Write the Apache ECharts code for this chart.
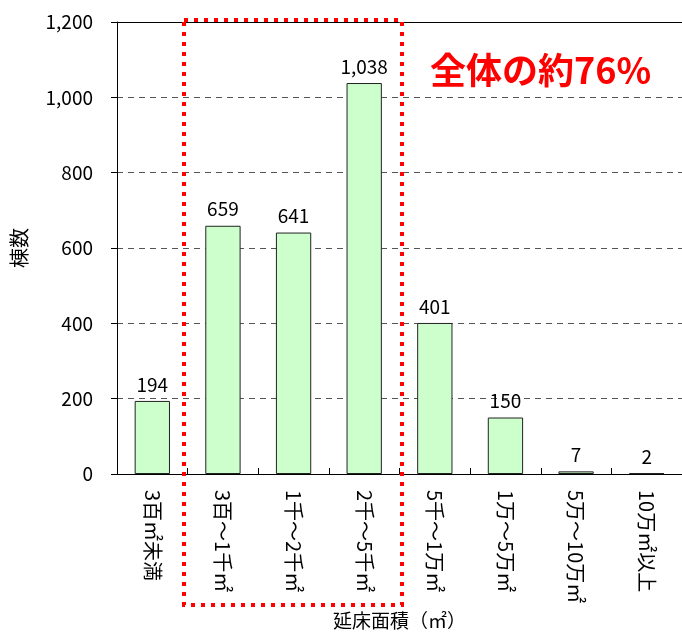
<!DOCTYPE html>
<html><head><meta charset="utf-8">
<script src="https://cdn.jsdelivr.net/npm/echarts@6/dist/echarts.min.js"></script>
<style>html,body{margin:0;padding:0;background:#fff}#c{width:682px;height:635px}</style>
</head><body><div id="c"></div>
<script>
var categories = ['3百㎡未満','3百～1千㎡','1千～2千㎡','2千～5千㎡','5千～1万㎡','1万～5万㎡','5万～10万㎡','10万㎡以上'];
var counts = [194, 659, 641, 1038, 401, 150, 7, 2];
var yTicks = [0, 200, 400, 600, 800, 1000, 1200];
var yName = '棟数';
var xName = '延床面積（㎡）';
var note = '全体の約76%';

var FONT = '"Noto Sans CJK JP", "Noto Sans", sans-serif';
var chart = echarts.init(document.getElementById('c'));
chart.setOption({
  animation: false,
  grid: {left: 117, right: 0, top: 22, bottom: 161, containLabel: false, outerBoundsMode: 'none'},
  xAxis: [{
    type: 'category', data: categories,
    axisLine: {lineStyle: {color: '#000', width: 1}},
    axisTick: {show: true, inside: true, length: 6, alignWithLabel: false, lineStyle: {color: '#000'}},
    axisLabel: {rotate: -90, color: '#000', fontSize: 20, fontFamily: FONT, margin: 16,
      verticalAlign: 'middle', align: 'left', interval: 0},
    name: xName, nameLocation: 'middle', nameGap: 137,
    nameTextStyle: {color: '#000', fontSize: 19, fontFamily: FONT}
  }, {
    type: 'category', data: categories, position: 'top',
    axisLine: {show: true, lineStyle: {color: '#000', width: 1}},
    axisTick: {show: false}, axisLabel: {show: false}
  }],
  yAxis: {
    type: 'value', min: yTicks[0], max: yTicks[yTicks.length - 1], interval: 200,
    axisLine: {show: true, lineStyle: {color: '#000'}},
    axisTick: {show: true, length: 6, lineStyle: {color: '#000'}},
    axisLabel: {color: '#000', fontSize: 19, fontFamily: FONT, margin: 24,
      formatter: function (v) { return v.toLocaleString('en-US'); }},
    splitLine: {show: true, lineStyle: {color: '#555', type: [6, 5], width: 1}},
    name: yName, nameLocation: 'middle', nameGap: 88, nameRotate: 90,
    nameTextStyle: {color: '#000', fontSize: 20, fontFamily: FONT}
  },
  series: [{
    type: 'bar', data: counts, barWidth: '50%',
    itemStyle: {color: '#ccffcc', borderColor: '#222', borderWidth: 1},
    label: {show: true, position: 'top', distance: 7, color: '#000', fontSize: 19, fontFamily: FONT,
      formatter: function (p) { return p.value.toLocaleString('en-US'); }}
  }],
  graphic: [{
    type: 'rect', shape: {x: 184, y: 20, width: 218, height: 585}, z: 100,
    style: {fill: 'none', stroke: '#ff0000', lineWidth: 4, lineDash: [4, 6]}
  }, {
    type: 'text', left: 430, top: 52, z: 100,
    style: {text: note, fill: '#ff0000', fontSize: 36, fontWeight: 'bold', fontFamily: FONT}
  }]
});
</script></body></html>
